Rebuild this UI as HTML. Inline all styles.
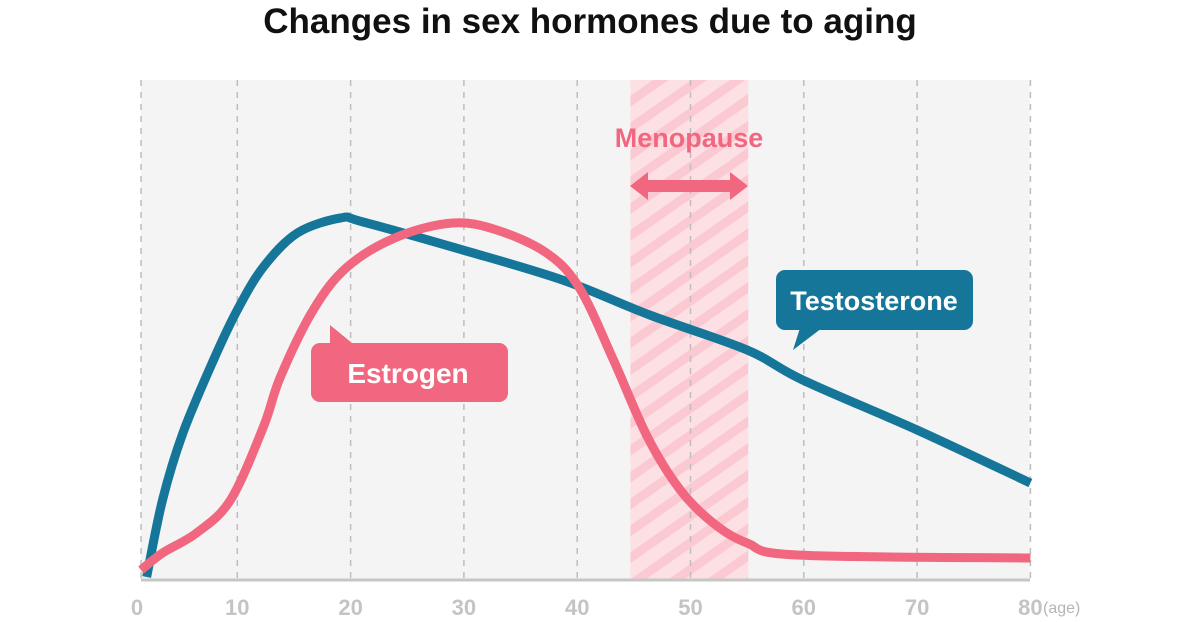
<!DOCTYPE html>
<html><head><meta charset="utf-8"><style>
body{margin:0;background:#fff;}
svg{display:block;font-family:"Liberation Sans",Arial,sans-serif;}
</style></head><body>
<svg width="1200" height="622" viewBox="0 0 1200 622">
<defs>
<pattern id="stripes" patternUnits="userSpaceOnUse" width="22" height="22" patternTransform="rotate(-35)">
<rect width="22" height="22" fill="#fde0e4"/><rect width="22" height="9" fill="#fbc9d1"/>
</pattern>
</defs>
<text x="590" y="33" text-anchor="middle" font-size="35" font-weight="bold" fill="#111">Changes in sex hormones due to aging</text>
<rect x="141" y="80" width="889" height="500" fill="#f4f4f4"/>
<g id="band"></g>
<g id="grid"></g>
<g id="curves"></g>
<line x1="141" y1="580" x2="1030" y2="580" stroke="#c6c6c6" stroke-width="3"/>
<g id="ticks"></g>
<text x="1043" y="613" font-size="16" fill="#b5b5b5">(age)</text>
<text x="689" y="147" text-anchor="middle" font-size="27" font-weight="bold" fill="#f0677f">Menopause</text>
<path d="M630,186 L648,172 L648,180 L730,180 L730,172 L748,186 L730,200 L730,192 L648,192 L648,200 Z" fill="#f0677f"/>
<g>
<path d="M330,325 L352,343 L330,343 Z" fill="#f0677f"/>
<rect x="311" y="343" width="197" height="59" rx="9" fill="#f0677f"/>
<text x="408" y="383" text-anchor="middle" font-size="28" font-weight="bold" fill="#fff">Estrogen</text>
</g>
<g>
<path d="M793,350 L800,328 L822,328 Z" fill="#15769a"/>
<rect x="776" y="270" width="197" height="60" rx="9" fill="#15769a"/>
<text x="874" y="310" text-anchor="middle" font-size="27" font-weight="bold" fill="#fff">Testosterone</text>
</g>
</svg>
<script>
const ticks=[0,10,20,30,40,50,60,70,80];
const testoAges=[2.0,3.4,5.2,7.9,10,12.3,15.3,19.1,21.1,29.9,38.7,46.4,55,59.9,70,80];
const testoVals=[0.6,16,29.4,44,54,62.6,69.4,72.4,71.6,66,60,53,46,40,30,19.4];
const estroAges=[1.5,3.4,6.4,9.4,12.3,13.8,16.7,19.7,24.1,29,32.9,37.3,40.2,43.2,46.2,49.1,52,55,59.4,80];
const estroVals=[2,5.4,9.4,16,30.6,40.6,54,62.6,68.6,71.4,70,65.4,58.4,44,28.6,18,11.4,7.4,5,4.4];
const bandStart=44.7, bandEnd=55.1;
const NS="http://www.w3.org/2000/svg";
const X=a=>124+a*11.33, Y=v=>580-v*5;
function mk(t,p,a){const e=document.createElementNS(NS,t);for(const k in a)e.setAttribute(k,a[k]);p.appendChild(e);return e;}
const band=mk('rect',document.getElementById('band'),{x:X(bandStart),y:80,width:X(bandEnd)-X(bandStart),height:500,fill:'url(#stripes)'});


const g=document.getElementById('grid'), tg=document.getElementById('ticks');
ticks.forEach(t=>{
 const x=Math.max(X(t),141);
 const l=mk('line',g,{x1:x,x2:x,y1:80,y2:580,stroke:'#bdbdbd','stroke-width':1.5,'stroke-dasharray':'6 6'});
 
 
 const tx=mk('text',tg,{x:x-(t===0?4:0),y:615,'text-anchor':'middle','font-size':22,'font-weight':'bold',fill:'#c4c4c4'});
 tx.textContent=t;
 
 
});
function path(ax,vs){
 const p=ax.map((a,i)=>[X(a),Y(vs[i])]);
 let d='M'+p[0][0]+','+p[0][1];
 for(let i=0;i<p.length-1;i++){
  const p0=p[i-1]||p[i],p1=p[i],p2=p[i+1],p3=p[i+2]||p2;
  d+=` C${p1[0]+(p2[0]-p0[0])/6},${p1[1]+(p2[1]-p0[1])/6} ${p2[0]-(p3[0]-p1[0])/6},${p2[1]-(p3[1]-p1[1])/6} ${p2[0]},${p2[1]}`;
 }
 return d;
}
const c=document.getElementById('curves');
const t1=mk('path',c,{d:path(testoAges,testoVals),fill:'none',stroke:'#15769a','stroke-width':9,'stroke-linejoin':'round'});


const e1=mk('path',c,{d:path(estroAges,estroVals),fill:'none',stroke:'#f0677f','stroke-width':9,'stroke-linejoin':'round'});


</script>
</body></html>
